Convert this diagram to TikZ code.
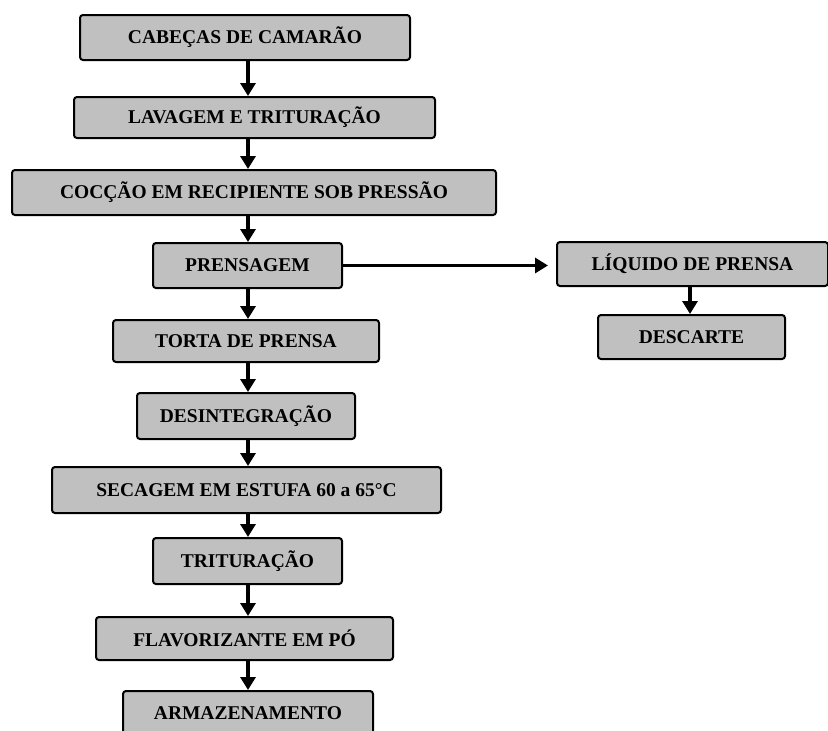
\documentclass[tikz,border=0pt]{standalone}
\usepackage{fontspec}
\setmainfont{Liberation Serif}
\usetikzlibrary{arrows.meta}
\definecolor{boxgray}{HTML}{C0C0C0}
\tikzset{
  box/.style={draw=black, fill=boxgray, line width=2pt, rounded corners=3pt,
    inner sep=0pt, font=\fontsize{19.5}{21}\selectfont\bfseries},
  arr/.style={line width=3.2pt, -{Triangle[width=15pt,length=13pt]}}
}
\begin{document}
\begin{tikzpicture}[x=1pt,y=-1pt]
\useasboundingbox (0,0) rectangle (828,731);
\clip (0,0) rectangle (828,731);
\fill[white] (0,0) rectangle (828,731);
\coordinate (axis) at (248,0);
\coordinate (raxis) at (690,0);

\node[box, minimum width=330pt, minimum height=45pt] (n1) at (245,37.5) {CABEÇAS DE CAMARÃO};
\node[box, minimum width=361pt, minimum height=41pt] (n2) at (254.5,117.5) {LAVAGEM E TRITURAÇÃO};
\node[box, minimum width=484pt, minimum height=45pt] (n3) at (254,192.5) {COCÇÃO EM RECIPIENTE SOB PRESSÃO};
\node[box, minimum width=189pt, minimum height=45pt] (n4) at (247.5,265.5) {PRENSAGEM};
\node[box, minimum width=266pt, minimum height=42pt] (n5) at (246,341) {TORTA DE PRENSA};
\node[box, minimum width=218pt, minimum height=46pt] (n6) at (246,416) {DESINTEGRAÇÃO};
\node[box, minimum width=389pt, minimum height=46pt] (n7) at (246.5,490) {SECAGEM EM ESTUFA 60 a 65°C};
\node[box, minimum width=189pt, minimum height=46pt] (n8) at (247.5,561) {TRITURAÇÃO};
\node[box, minimum width=297pt, minimum height=43pt] (n9) at (244.5,638.5) {FLAVORIZANTE EM PÓ};
\node[box, minimum width=250pt, minimum height=45pt] (n10) at (248,713.5) {ARMAZENAMENTO};

\node[box, minimum width=271pt, minimum height=44pt] (liq) at (692.5,264) {LÍQUIDO DE PRENSA};
\node[box, minimum width=187pt, minimum height=44pt] (desc) at (691.5,337) {DESCARTE};

\draw[arr] (n1.south -| axis) -- (n2.north -| axis);
\draw[arr] (n2.south -| axis) -- (n3.north -| axis);
\draw[arr] (n3.south -| axis) -- (n4.north -| axis);
\draw[arr] (n4.south -| axis) -- (n5.north -| axis);
\draw[arr] (n5.south -| axis) -- (n6.north -| axis);
\draw[arr] (n6.south -| axis) -- (n7.north -| axis);
\draw[arr] (n7.south -| axis) -- (n8.north -| axis);
\draw[arr] (n8.south -| axis) -- (n9.north -| axis);
\draw[arr] (n9.south -| axis) -- (n10.north -| axis);
\draw[arr, shorten >=8pt] (n4.east) -- (liq.west |- n4.east);
\draw[arr] (liq.south -| raxis) -- (desc.north -| raxis);
\end{tikzpicture}
\end{document}
